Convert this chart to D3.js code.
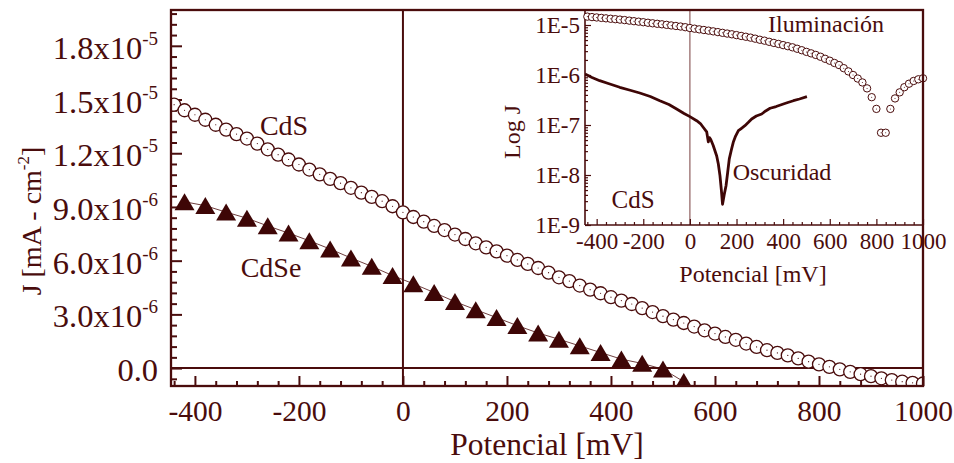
<!DOCTYPE html>
<html>
<head>
<meta charset="utf-8">
<script src="https://cdn.jsdelivr.net/npm/d3@7"></script>
<style>
  html, body { margin: 0; padding: 0; background: #fff; }
  svg { display: block; }
  text { font-family: "Liberation Serif", "Times New Roman", serif; fill: #4a0c0c; }
</style>
</head>
<body>
<svg id="chart" width="954" height="463"></svg>
<script>
// ---- CdS under illumination: potential (mV) and current density (mA/cm^2)
const cdsVoltage = [-460, -440, -420, -400, -380, -360, -340, -320, -300, -280, -260, -240, -220, -200,
  -180, -160, -140, -120, -100, -80, -60, -40, -20, 0, 20, 40, 60, 80, 100, 120, 140, 160, 180, 200,
  220, 240, 260, 280, 300, 320, 340, 360, 380, 400, 420, 440, 460, 480, 500, 520, 540, 560, 580, 600,
  620, 640, 660, 680, 700, 720, 740, 760, 780, 800, 820, 840, 860, 880, 900, 920, 940, 960, 980, 1000];
const cdsCurrent = [15.05e-6, 14.71e-6, 14.40e-6, 14.15e-6, 13.87e-6, 13.59e-6, 13.32e-6, 13.07e-6, 12.82e-6,
  12.54e-6, 12.22e-6, 11.92e-6, 11.65e-6, 11.37e-6, 11.09e-6, 10.82e-6, 10.57e-6, 10.33e-6, 10.07e-6,
  9.80e-6, 9.56e-6, 9.32e-6, 9.04e-6, 8.70e-6, 8.44e-6, 8.18e-6, 7.94e-6, 7.71e-6, 7.46e-6, 7.21e-6,
  6.97e-6, 6.74e-6, 6.52e-6, 6.28e-6, 6.04e-6, 5.82e-6, 5.59e-6, 5.33e-6, 5.07e-6, 4.86e-6, 4.61e-6,
  4.38e-6, 4.18e-6, 3.96e-6, 3.77e-6, 3.58e-6, 3.35e-6, 3.13e-6, 2.90e-6, 2.71e-6, 2.52e-6, 2.32e-6,
  2.11e-6, 1.93e-6, 1.74e-6, 1.58e-6, 1.37e-6, 1.18e-6, 1.00e-6, 0.85e-6, 0.71e-6, 0.54e-6, 0.36e-6,
  0.21e-6, 0.07e-6, -0.07e-6, -0.21e-6, -0.34e-6, -0.45e-6, -0.57e-6, -0.67e-6, -0.76e-6, -0.82e-6, -0.86e-6];

// ---- CdSe under illumination
const cdseVoltage = [-420, -380, -340, -300, -260, -220, -180, -140, -100, -60, -20, 20, 60, 100, 140,
  180, 220, 260, 300, 340, 380, 420, 460, 500, 540];
const cdseCurrent = [9.29e-6, 9.07e-6, 8.71e-6, 8.37e-6, 7.94e-6, 7.54e-6, 7.11e-6, 6.65e-6, 6.15e-6,
  5.68e-6, 5.17e-6, 4.71e-6, 4.22e-6, 3.71e-6, 3.26e-6, 2.82e-6, 2.37e-6, 1.96e-6, 1.61e-6, 1.24e-6,
  0.87e-6, 0.50e-6, 0.26e-6, -0.06e-6, -0.76e-6];

// ---- CdS in the dark (absolute value, log plot)
const darkVoltage = [-450, -420, -387, -350, -301, -260, -215, -170, -129, -90, -57, -25, 0, 29, 45, 57,
  72, 79, 84, 89, 100, 115, 122, 129, 135, 140, 147, 155, 162, 169, 178, 186, 196, 208, 220, 236, 250,
  265, 285, 308, 325, 344, 370, 401, 420, 444, 470, 502];
const darkCurrent = [1.047e-6, 8.91e-7, 7.69e-7, 6.76e-7, 5.68e-7, 5.01e-7, 4.37e-7, 3.72e-7, 3.06e-7,
  2.57e-7, 2.09e-7, 1.70e-7, 1.47e-7, 1.22e-7, 1.07e-7, 9.0e-8, 7.3e-8, 4.6e-8, 5.6e-8, 5.2e-8, 3.9e-8,
  2.4e-8, 1.66e-8, 9.7e-9, 5.0e-9, 2.6e-9, 4.0e-9, 6.1e-9, 1.12e-8, 2.1e-8, 3.2e-8, 4.5e-8, 6.0e-8,
  7.7e-8, 8.5e-8, 9.7e-8, 1.12e-7, 1.32e-7, 1.51e-7, 1.66e-7, 1.91e-7, 2.16e-7, 2.34e-7, 2.63e-7,
  2.82e-7, 3.06e-7, 3.31e-7, 3.68e-7];

// ---- tick labels
const mainXTicks = [-400, -200, 0, 200, 400, 600, 800, 1000];
const mainYTicks = [0, 3e-6, 6e-6, 9e-6, 1.2e-5, 1.5e-5, 1.8e-5];
const mainYMantissa = ["0.0", "3.0", "6.0", "9.0", "1.2", "1.5", "1.8"];
const mainYExponent = ["", "-6", "-6", "-6", "-5", "-5", "-5"];
const insetXTicks = [-400, -200, 0, 200, 400, 600, 800, 1000];
const insetYTicks = [1e-9, 1e-8, 1e-7, 1e-6, 1e-5];
const insetYLabels = ["1E-9", "1E-8", "1E-7", "1E-6", "1E-5"];

// ---- drawing
const INK = "#4a0c0c";
const svg = d3.select("#chart");
const defs = svg.append("defs");
const plain = d => String(d);   // hyphen minus, no thousands separator

const M = { left: 171, right: 923, top: 10, bottom: 386 };
const x = d3.scaleLinear().domain([-446, 1000]).range([M.left, M.right]);
const y = d3.scaleLinear().domain([-1e-6, 2e-5]).range([M.bottom, M.top]);

defs.append("clipPath").attr("id", "clipMain").append("rect")
  .attr("x", M.left).attr("y", M.top).attr("width", M.right - M.left).attr("height", M.bottom - M.top);

// reference lines at J = 0 and V = 0
svg.append("line").attr("x1", M.left).attr("x2", M.right).attr("y1", y(0)).attr("y2", y(0))
  .attr("stroke", INK).attr("stroke-width", 2);
svg.append("line").attr("x1", x(0)).attr("x2", x(0)).attr("y1", M.top).attr("y2", M.bottom)
  .attr("stroke", INK).attr("stroke-width", 2);

// ticks
function styleAxis(g) {
  g.select(".domain").remove();
  g.selectAll(".tick line").attr("stroke", INK).attr("stroke-width", 2);
  g.selectAll(".tick text").attr("fill", INK).attr("font-family", null);
}
const mainXMinor = d3.range(-440, 1001, 40).filter(v => v % 200 !== 0);
svg.append("g").attr("transform", `translate(0,${M.bottom})`)
  .call(d3.axisBottom(x).tickValues(mainXMinor).tickSizeInner(-5).tickSizeOuter(0).tickFormat(""))
  .call(styleAxis);
svg.append("g").attr("transform", `translate(0,${M.bottom})`)
  .call(d3.axisBottom(x).tickValues(mainXTicks).tickSizeInner(-10).tickSizeOuter(0).tickPadding(14)
    .tickFormat(plain))
  .call(styleAxis)
  .call(g => g.selectAll(".tick text").attr("font-size", 29.5));

const mainYMinor = d3.range(-6e-7, 2e-5, 6e-7).filter(v => Math.abs(v / 3e-6 - Math.round(v / 3e-6)) > 1e-6);
svg.append("g").attr("transform", `translate(${M.left},0)`)
  .call(d3.axisLeft(y).tickValues(mainYMinor).tickSizeInner(-6).tickSizeOuter(0).tickFormat(""))
  .call(styleAxis);
svg.append("g").attr("transform", `translate(${M.left},0)`)
  .call(d3.axisLeft(y).tickValues(mainYTicks).tickSizeInner(-11).tickSizeOuter(0).tickFormat(""))
  .call(styleAxis);

// y tick labels with powers of ten
mainYTicks.forEach((v, i) => {
  const t = svg.append("text").attr("x", 158).attr("y", y(v) + 13).attr("text-anchor", "end")
    .attr("font-size", 32.5);
  if (mainYExponent[i]) {
    t.append("tspan").text(mainYMantissa[i] + "x10");
    t.append("tspan").attr("font-size", 19).attr("dy", -14).text(mainYExponent[i]);
  } else {
    t.text(mainYMantissa[i]);
  }
});

// CdSe: triangles joined by a thin line
const gData = svg.append("g").attr("clip-path", "url(#clipMain)");
const cdse = cdseVoltage.map((v, i) => [v, cdseCurrent[i]]);
gData.append("path").datum(cdse)
  .attr("d", d3.line().x(d => x(d[0])).y(d => y(d[1])))
  .attr("fill", "none").attr("stroke", INK).attr("stroke-width", 0.8);
gData.selectAll(".tri").data(cdse).join("path").attr("class", "tri")
  .attr("transform", d => `translate(${x(d[0])},${y(d[1])})`)
  .attr("d", "M0,-8.6L10,8.4L-10,8.4Z")
  .attr("fill", "#3e0606");

// CdS: open circles with a centre dot
const cds = cdsVoltage.map((v, i) => [v, cdsCurrent[i]]);
const circ = gData.selectAll(".cds").data(cds).join("g").attr("class", "cds")
  .attr("transform", d => `translate(${x(d[0])},${y(d[1])})`);
circ.append("circle").attr("r", 6.5).attr("fill", "#fff").attr("stroke", INK).attr("stroke-width", 1.3);
circ.append("circle").attr("r", 0.6).attr("fill", INK);

// series labels
svg.append("text").attr("x", 284).attr("y", 135).attr("text-anchor", "middle").attr("font-size", 28).text("CdS");
svg.append("text").attr("x", 271).attr("y", 277).attr("text-anchor", "middle").attr("font-size", 28).text("CdSe");

// axis titles
svg.append("text").attr("x", 547).attr("y", 455).attr("text-anchor", "middle").attr("font-size", 31.5)
  .text("Potencial [mV]");
const yt = svg.append("text").attr("transform", "translate(41,221) rotate(-90)")
  .attr("text-anchor", "middle").attr("font-size", 28);
yt.append("tspan").text("J [mA - cm");
yt.append("tspan").attr("font-size", 17).attr("dy", -12).text("-2");
yt.append("tspan").attr("dy", 12).text("]");

// ---- inset: log |J| versus potential
const I = { left: 585, right: 923, top: 10, bottom: 225 };
const xi = d3.scaleLinear().domain([-450, 1000]).range([I.left, I.right]);
const yi = d3.scaleLog().domain([1e-9, Math.pow(10, -4.7)]).range([I.bottom, I.top]);

defs.append("clipPath").attr("id", "clipInset").append("rect")
  .attr("x", I.left).attr("y", I.top).attr("width", I.right - I.left).attr("height", I.bottom - I.top);

svg.append("line").attr("x1", xi(0)).attr("x2", xi(0)).attr("y1", I.top).attr("y2", I.bottom)
  .attr("stroke", "#8e5e5e").attr("stroke-width", 1.2);

function styleInset(g) {
  g.select(".domain").remove();
  g.selectAll(".tick line").attr("stroke", INK).attr("stroke-width", 1.2);
  g.selectAll(".tick text").attr("fill", INK).attr("font-family", null).attr("font-size", 23);
}
const insetXMinor = d3.range(-440, 1001, 40).filter(v => v % 200 !== 0);
svg.append("g").attr("transform", `translate(0,${I.bottom})`)
  .call(d3.axisBottom(xi).tickValues(insetXMinor).tickSizeInner(-3).tickSizeOuter(0).tickFormat(""))
  .call(styleInset);
svg.append("g").attr("transform", `translate(0,${I.bottom})`)
  .call(d3.axisBottom(xi).tickValues(insetXTicks).tickSizeInner(-6).tickSizeOuter(0).tickPadding(8)
    .tickFormat(plain))
  .call(styleInset);

const insetYMinor = [];
[-9, -8, -7, -6, -5].forEach(e => { for (let k = 2; k <= 9; k++) { const v = k * Math.pow(10, e); if (v < Math.pow(10, -4.7)) insetYMinor.push(v); } });
svg.append("g").attr("transform", `translate(${I.left},0)`)
  .call(d3.axisLeft(yi).tickValues(insetYMinor).tickSizeInner(-3).tickSizeOuter(0).tickFormat(""))
  .call(styleInset);
svg.append("g").attr("transform", `translate(${I.left},0)`)
  .call(d3.axisLeft(yi).tickValues(insetYTicks).tickSizeInner(-6).tickSizeOuter(0).tickPadding(5)
    .tickFormat((d, i) => insetYLabels[i]))
  .call(styleInset);

// inset axis lines
svg.append("line").attr("x1", I.left).attr("x2", I.left).attr("y1", I.top).attr("y2", I.bottom)
  .attr("stroke", INK).attr("stroke-width", 1.6);
svg.append("line").attr("x1", I.left).attr("x2", I.right).attr("y1", I.bottom).attr("y2", I.bottom)
  .attr("stroke", INK).attr("stroke-width", 1.6);

const gInset = svg.append("g").attr("clip-path", "url(#clipInset)");
// dark current curve
const dark = darkVoltage.map((v, i) => [v, darkCurrent[i]]);
gInset.append("path").datum(dark)
  .attr("d", d3.line().x(d => xi(d[0])).y(d => yi(d[1])))
  .attr("fill", "none").attr("stroke", "#3e0606").attr("stroke-width", 2.8)
  .attr("stroke-linejoin", "round");
// illuminated curve, |J|
const ic = svg.append("g").selectAll(".ill").data(cds.filter(d => d[0] >= -450)).join("g")
  .attr("transform", d => `translate(${xi(d[0])},${yi(Math.abs(d[1]))})`);
ic.append("circle").attr("r", 3.7).attr("fill", "#fff").attr("stroke", INK).attr("stroke-width", 1);
ic.append("circle").attr("r", 0.5).attr("fill", INK);

// inset labels
svg.append("text").attr("x", 826).attr("y", 32).attr("text-anchor", "middle").attr("font-size", 24).text("Iluminación");
svg.append("text").attr("x", 782).attr("y", 180).attr("text-anchor", "middle").attr("font-size", 24).text("Oscuridad");
svg.append("text").attr("x", 633).attr("y", 208).attr("text-anchor", "middle").attr("font-size", 25).text("CdS");
svg.append("text").attr("x", 753).attr("y", 282).attr("text-anchor", "middle").attr("font-size", 24).text("Potencial [mV]");
svg.append("text").attr("transform", "translate(520,132) rotate(-90)").attr("text-anchor", "middle")
  .attr("font-size", 24).text("Log J");

// outer frame of the main plot
svg.append("rect").attr("x", M.left).attr("y", M.top).attr("width", M.right - M.left)
  .attr("height", M.bottom - M.top).attr("fill", "none").attr("stroke", INK).attr("stroke-width", 2.3);
</script>
</body>
</html>
